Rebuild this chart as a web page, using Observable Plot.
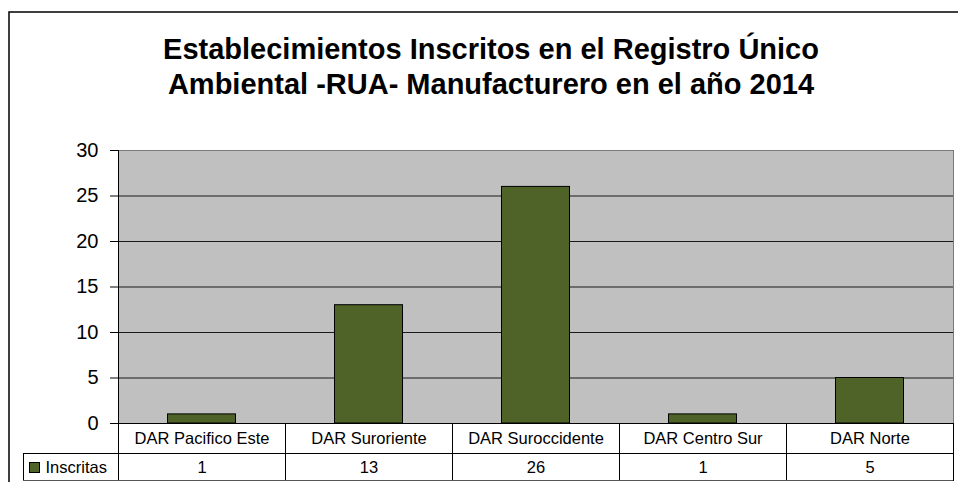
<!DOCTYPE html>
<html>
<head>
<meta charset="utf-8">
<script src="https://cdn.jsdelivr.net/npm/d3@7"></script>
<script src="https://cdn.jsdelivr.net/npm/@observablehq/plot@0.6"></script>
<style>
  html, body { margin: 0; padding: 0; background: #fff; }
  #chart { width: 958px; height: 482px; overflow: hidden; position: relative; }
  #chart svg { display: block; }
</style>
</head>
<body>
<div id="chart"></div>
<script>
const categories = ["DAR Pacifico Este", "DAR Suroriente", "DAR Suroccidente", "DAR Centro Sur", "DAR Norte"];
const values = [1, 13, 26, 1, 5];
const seriesName = "Inscritas";
const yTicks = [0, 5, 10, 15, 20, 25, 30];
const titleLines = ["Establecimientos Inscritos en el Registro Único", "Ambiental -RUA- Manufacturero en el año 2014"];

const data = categories.map((c, i) => ({cat: c, value: values[i]}));
const FONT = "'Liberation Sans', Arial, sans-serif";
const barColor = "#4f6228";

const plot = Plot.plot({
  width: 958,
  height: 482,
  marginLeft: 118,
  marginRight: 5,
  marginTop: 150,
  marginBottom: 59,
  style: {fontFamily: FONT, background: "transparent", color: "#000"},
  x: {domain: categories, padding: 0, axis: null},
  y: {domain: [0, 30], axis: null},
  marks: [
    Plot.frame({fill: "#c0c0c0", stroke: "#7a7a7a"}),
    Plot.ruleY(yTicks.filter(v => v > 0 && v < 30), {stroke: "#1a1a1a", strokeWidth: 1.2}),
    Plot.barY(data, {x: "cat", y: "value", fill: barColor, stroke: "#000", strokeWidth: 1, insetLeft: 49.5, insetRight: 49.5}),
    Plot.frame({anchor: "left", stroke: "#000"}),
    Plot.axisY({ticks: yTicks, tickSize: 8, tickPadding: 12, fontSize: 20, label: null, stroke: "#000"}),
    Plot.text([titleLines.join("\n")], {
      frameAnchor: "top", dx: -45, dy: -85, lineAnchor: "middle", lineHeight: 1.2,
      fontSize: 29, fontWeight: "bold", fill: "#000"
    }),
    Plot.text(data, {x: "cat", text: "cat", frameAnchor: "bottom", dy: 15, lineAnchor: "middle", fontSize: 16.5, fill: "#000"}),
    Plot.text(data, {x: "cat", text: d => String(d.value), frameAnchor: "bottom", dy: 44, lineAnchor: "middle", fontSize: 16.5, fill: "#000"}),
    Plot.text([seriesName], {frameAnchor: "bottom-left", dx: -73, dy: 44, textAnchor: "start", lineAnchor: "middle", fontSize: 16.5, fill: "#000"})
  ]
});

document.getElementById("chart").appendChild(plot);

// Table grid and chart border using the plot's own x scale
const svg = d3.select(plot);
const xs = plot.scale("x");
const bw = xs.bandwidth;
const edges = categories.map(c => xs.apply(c));
edges.push(xs.apply(categories[categories.length - 1]) + bw);
const x0 = edges[0], x1 = edges[edges.length - 1];
const yTop = 423, yMid = 453, yBot = 481, legendLeft = 23;
const g = svg.append("g").attr("stroke", "#000").attr("stroke-width", 1).attr("fill", "none").attr("shape-rendering", "crispEdges");
edges.forEach(x => g.append("line").attr("x1", x).attr("x2", x).attr("y1", yTop).attr("y2", yBot));
g.append("line").attr("x1", legendLeft).attr("x2", legendLeft).attr("y1", yMid).attr("y2", yBot);
g.append("line").attr("x1", x0).attr("x2", x1).attr("y1", yTop).attr("y2", yTop);
g.append("line").attr("x1", legendLeft).attr("x2", x1).attr("y1", yMid).attr("y2", yMid);
g.append("line").attr("x1", legendLeft).attr("x2", x1).attr("y1", yBot - 0.5).attr("y2", yBot - 0.5).attr("stroke", "#555");
svg.append("rect").attr("x", 29.5).attr("y", 462.5).attr("width", 10).attr("height", 10)
  .attr("fill", barColor).attr("stroke", "#000").attr("stroke-width", 1);
svg.insert("rect", ":first-child").attr("x", 9).attr("y", 12).attr("width", 1000).attr("height", 1000)
  .attr("fill", "none").attr("stroke", "#000").attr("stroke-width", 1.5);
</script>
</body>
</html>
